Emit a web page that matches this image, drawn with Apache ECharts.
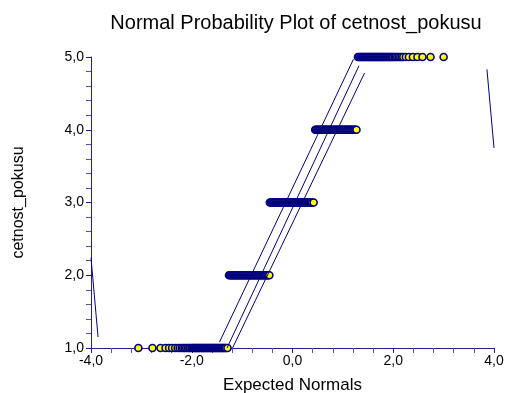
<!doctype html>
<html lang="en">
<head>
    <meta charset="UTF-8">
    <title>Normal Probability Plot</title>
    <script src="https://cdn.jsdelivr.net/npm/echarts@6/dist/echarts.min.js"></script>
    <style>
        html, body { margin: 0; padding: 0; background: #fff; }
        #chart { width: 506px; height: 393px; }
    </style>
</head>
<body>
<div id="chart"></div>
<script type="text/javascript">
    // expected normals for each observed level (cetnost_pokusu = 1..5)
    var levels = [1, 2, 3, 4, 5];
    var level1X = [-3.06, -2.78, -2.62, -2.52, -2.45, -2.39, -2.33, -2.28, -2.24, -2.2, -2.17, -2.14, -2.11, -2.08,
        -2.05, -2.03, -2.0, -1.98, -1.96, -1.94, -1.92, -1.9, -1.88, -1.86, -1.84, -1.82, -1.8, -1.78, -1.76, -1.74,
        -1.72, -1.7, -1.68, -1.66, -1.64, -1.62, -1.6, -1.58, -1.56, -1.54, -1.52, -1.5, -1.48, -1.46, -1.44, -1.42,
        -1.4, -1.38, -1.36, -1.34, -1.32, -1.29];
    var level2X = [-1.26, -1.24, -1.22, -1.2, -1.18, -1.16, -1.14, -1.12, -1.1, -1.08, -1.06, -1.04, -1.02, -1.0,
        -0.98, -0.96, -0.94, -0.92, -0.9, -0.88, -0.86, -0.84, -0.82, -0.8, -0.78, -0.76, -0.74, -0.72, -0.7, -0.68,
        -0.66, -0.64, -0.62, -0.6, -0.58, -0.56, -0.54, -0.52, -0.5, -0.48, -0.46];
    var level3X = [-0.45, -0.43, -0.41, -0.39, -0.37, -0.35, -0.33, -0.31, -0.29, -0.27, -0.25, -0.23, -0.21, -0.19,
        -0.17, -0.15, -0.13, -0.11, -0.09, -0.07, -0.05, -0.03, -0.01, 0.01, 0.03, 0.05, 0.07, 0.09, 0.11, 0.13, 0.15,
        0.17, 0.19, 0.21, 0.23, 0.25, 0.27, 0.29, 0.31, 0.33, 0.35, 0.37, 0.39, 0.42];
    var level4X = [0.45, 0.47, 0.49, 0.51, 0.53, 0.55, 0.57, 0.59, 0.61, 0.63, 0.65, 0.67, 0.69, 0.71, 0.73, 0.75,
        0.77, 0.79, 0.81, 0.83, 0.85, 0.87, 0.89, 0.91, 0.93, 0.95, 0.97, 0.99, 1.01, 1.03, 1.05, 1.07, 1.09, 1.11,
        1.13, 1.15, 1.17, 1.19, 1.21, 1.23, 1.25, 1.27];
    var level5X = [1.3, 1.32, 1.34, 1.36, 1.38, 1.4, 1.42, 1.44, 1.46, 1.48, 1.5, 1.52, 1.54, 1.56, 1.58, 1.6, 1.62,
        1.64, 1.66, 1.68, 1.7, 1.72, 1.74, 1.76, 1.78, 1.8, 1.82, 1.84, 1.86, 1.88, 1.9, 1.92, 1.94, 1.96, 1.98, 2.0,
        2.03, 2.05, 2.08, 2.11, 2.14, 2.17, 2.2, 2.25, 2.31, 2.39, 2.48, 2.58, 2.74, 3.0];

    // fitted line and its bands (end points)
    var upperBand = [[-1.45, 1.08], [1.21, 4.97]];
    var fitLine = [[-1.3, 1.0], [1.32, 4.88]];
    var lowerBand = [[-1.19, 1.0], [1.43, 4.78]];
    var leftTail = [[-4.0, 2.24], [-3.86, 1.15]];
    var rightTail = [[3.86, 4.83], [4.0, 3.75]];

    var xTicks = [-4, -2, 0, 2, 4];
    var yTicks = [1, 2, 3, 4, 5];

    var points = [];
    [level1X, level2X, level3X, level4X, level5X].forEach(function (xs, i) {
        for (var j = 0; j < xs.length; j++) {
            points.push([xs[j], levels[i]]);
        }
    });

    function fmt(v) {
        return v.toFixed(1).replace('.', ',');
    }

    var axisColor = '#1f1f8f';
    var lineColor = '#000080';

    function lineSeries(data) {
        return {
            type: 'line',
            data: data,
            symbol: 'none',
            silent: true,
            clip: false,
            lineStyle: {color: lineColor, width: 1},
            z: 3
        };
    }

    var myChart = echarts.init(document.getElementById('chart'));
    myChart.setOption({
        animation: false,
        title: {
            text: 'Normal Probability Plot of cetnost_pokusu',
            left: 291,
            top: 8,
            textAlign: 'center',
            textStyle: {fontFamily: 'Liberation Sans', fontSize: 20, fontWeight: 'normal', color: '#000'}
        },
        grid: {left: 91, right: 12, top: 57, bottom: 45, containLabel: false, outerBoundsMode: 'none'},
        xAxis: {
            type: 'value',
            min: -4, max: 4, interval: 2,
            name: 'Expected Normals',
            nameLocation: 'middle',
            nameGap: 29,
            nameTextStyle: {fontFamily: 'Liberation Sans', fontSize: 17, color: '#000'},
            axisLine: {onZero: false, lineStyle: {color: axisColor, width: 1}},
            axisTick: {show: true, length: 5, lineStyle: {color: axisColor}},
            minorTick: {show: true, splitNumber: 5, length: 5, lineStyle: {color: '#5555b0'}},
            splitLine: {show: false},
            axisLabel: {
                fontFamily: 'Liberation Sans', fontSize: 14, color: '#000', margin: 6,
                formatter: function (v) { return xTicks.indexOf(v) >= 0 ? fmt(v) : ''; }
            }
        },
        yAxis: {
            type: 'value',
            min: 1, max: 5, interval: 1,
            name: 'cetnost_pokusu',
            nameLocation: 'middle',
            nameGap: 64,
            nameTextStyle: {fontFamily: 'Liberation Sans', fontSize: 16, color: '#000'},
            axisLine: {show: true, onZero: false, lineStyle: {color: axisColor, width: 1}},
            axisTick: {show: true, length: 5, lineStyle: {color: axisColor}},
            minorTick: {show: true, splitNumber: 5, length: 5, lineStyle: {color: '#5555b0'}},
            splitLine: {show: false},
            axisLabel: {
                fontFamily: 'Liberation Sans', fontSize: 14, color: '#000', margin: 7,
                formatter: function (v) { return yTicks.indexOf(v) >= 0 ? fmt(v) : ''; }
            }
        },
        series: [
            lineSeries(upperBand),
            lineSeries(fitLine),
            lineSeries(lowerBand),
            lineSeries(leftTail),
            lineSeries(rightTail),
            {
                type: 'scatter',
                data: points,
                symbol: 'circle',
                symbolSize: 7,
                clip: false,
                itemStyle: {color: '#ffff00', borderColor: '#000080', borderWidth: 1.6, opacity: 1},
                z: 2
            }
        ]
    });
</script>
</body>
</html>
